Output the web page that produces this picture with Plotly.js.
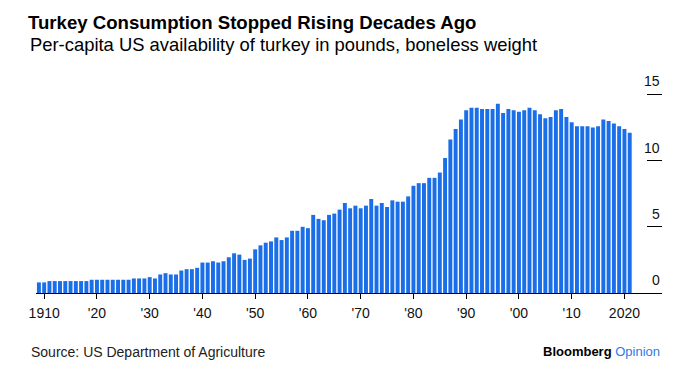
<!DOCTYPE html>
<html>
<head>
<meta charset="utf-8">
<script src="https://cdn.plot.ly/plotly-3.0.1.min.js"></script>
<style>
  html, body { margin: 0; padding: 0; background: #fff; }
  #chart { width: 687px; height: 374px; }
</style>
</head>
<body>
<div id="chart"></div>
<script>
const years = [
  1909,
  1910, 1911, 1912, 1913, 1914, 1915, 1916, 1917, 1918, 1919,
  1920, 1921, 1922, 1923, 1924, 1925, 1926, 1927, 1928, 1929,
  1930, 1931, 1932, 1933, 1934, 1935, 1936, 1937, 1938, 1939,
  1940, 1941, 1942, 1943, 1944, 1945, 1946, 1947, 1948, 1949,
  1950, 1951, 1952, 1953, 1954, 1955, 1956, 1957, 1958, 1959,
  1960, 1961, 1962, 1963, 1964, 1965, 1966, 1967, 1968, 1969,
  1970, 1971, 1972, 1973, 1974, 1975, 1976, 1977, 1978, 1979,
  1980, 1981, 1982, 1983, 1984, 1985, 1986, 1987, 1988, 1989,
  1990, 1991, 1992, 1993, 1994, 1995, 1996, 1997, 1998, 1999,
  2000, 2001, 2002, 2003, 2004, 2005, 2006, 2007, 2008, 2009,
  2010, 2011, 2012, 2013, 2014, 2015, 2016, 2017, 2018, 2019,
  2020, 2021
];
const turkeyLbs = [
  0.8,
  0.8, 0.9, 0.9, 0.9, 0.9, 0.9, 0.9, 0.9, 0.9, 1.0,
  1.0, 1.0, 1.0, 1.0, 1.0, 1.0, 1.0, 1.1, 1.1, 1.1,
  1.2, 1.1, 1.4, 1.5, 1.4, 1.4, 1.7, 1.8, 1.8, 1.9,
  2.3, 2.3, 2.4, 2.3, 2.4, 2.7, 3.0, 2.9, 2.5, 2.6,
  3.3, 3.6, 3.8, 3.9, 4.2, 4.0, 4.2, 4.7, 4.7, 5.0,
  4.9, 5.9, 5.6, 5.5, 5.9, 6.0, 6.3, 6.8, 6.4, 6.6,
  6.4, 6.6, 7.1, 6.6, 6.8, 6.5, 7.0, 6.9, 6.9, 7.3,
  8.1, 8.3, 8.3, 8.7, 8.7, 9.1, 10.2, 11.6, 12.4, 13.1,
  13.8, 14.0, 14.0, 13.9, 13.9, 13.9, 14.3, 13.6, 13.9, 13.8,
  13.7, 13.8, 14.0, 13.8, 13.5, 13.2, 13.3, 13.8, 13.9, 13.3,
  12.9, 12.6, 12.6, 12.6, 12.5, 12.6, 13.1, 13.0, 12.8, 12.6,
  12.4, 12.1
];
const xTickVals = [1910, 1920, 1930, 1940, 1950, 1960, 1970, 1980, 1990, 2000, 2010, 2020];
const xTickText = ["1910", "'20", "'30", "'40", "'50", "'60", "'70", "'80", "'90", "'00", "'10", "2020"];
const yTickVals = [0, 5, 10, 15];
const yTickText = ["0", "5", "10", "15"];

const FONT = '"Liberation Sans", Arial, Helvetica, sans-serif';

const trace = {
  type: 'bar',
  x: years,
  y: turkeyLbs,
  marker: { color: '#1a6fe8', line: { width: 0 } },
  hoverinfo: 'x+y'
};

// y-axis labels sit just above their short tick lines, right-aligned
const yLabelAnnotations = yTickVals.map((v, i) => ({
  text: yTickText[i],
  xref: 'paper', yref: 'y',
  x: 1, xanchor: 'right',
  y: v, yanchor: 'bottom', yshift: 3,
  showarrow: false,
  font: { family: FONT, size: 14, color: '#111' }
}));

// plot area: bottom at y=293, 13.25 px per pound
const layout = {
  width: 687,
  height: 374,
  margin: { l: 36, r: 25, t: 67.75, b: 81, pad: 0 },
  paper_bgcolor: '#ffffff',
  plot_bgcolor: '#ffffff',
  font: { family: FONT, color: '#000', size: 13 },
  showlegend: false,
  bargap: 0.25,
  title: {
    text: '<b>Turkey Consumption Stopped Rising Decades Ago</b>',
    font: { family: FONT, size: 18.6, color: '#000' },
    x: 28 / 687, xanchor: 'left', xref: 'container',
    y: 1 - 22 / 374, yanchor: 'middle', yref: 'container'
  },
  xaxis: {
    range: [1908.45, 2027.12],
    tickvals: xTickVals,
    ticktext: xTickText,
    ticks: 'outside',
    ticklen: 5,
    tickwidth: 1,
    tickcolor: '#000',
    showline: true,
    linecolor: '#000',
    linewidth: 1,
    showgrid: false,
    zeroline: false,
    ticklabelstandoff: 2,
    tickfont: { family: FONT, size: 14, color: '#111' },
    fixedrange: true
  },
  yaxis: {
    range: [0, 17],
    side: 'right',
    tickvals: yTickVals,
    ticks: 'inside',
    ticklen: 15,
    tickwidth: 1,
    tickcolor: '#000',
    showticklabels: false,
    showline: false,
    showgrid: false,
    zeroline: false,
    fixedrange: true
  },
  annotations: [
    {
      text: 'Per-capita US availability of turkey in pounds, boneless weight',
      xref: 'paper', yref: 'paper',
      x: (28 - 36) / 626, xanchor: 'left',
      y: (293 - 44.5) / 225.25, yanchor: 'middle',
      showarrow: false,
      font: { family: FONT, size: 18.4, color: '#000' }
    },
    {
      text: 'Source: US Department of Agriculture',
      xref: 'paper', yref: 'paper',
      x: (29 - 36) / 626, xanchor: 'left',
      y: (293 - 352) / 225.25, yanchor: 'middle',
      showarrow: false,
      font: { family: FONT, size: 14, color: '#222' }
    },
    {
      text: '<b>Bloomberg</b> <span style="color:#2e7ae6">Opinion</span>',
      xref: 'paper', yref: 'paper',
      x: 1, xanchor: 'right',
      y: (293 - 352) / 225.25, yanchor: 'middle',
      showarrow: false,
      font: { family: FONT, size: 13, color: '#000' }
    }
  ].concat(yLabelAnnotations)
};

Plotly.newPlot('chart', [trace], layout, { displayModeBar: false, staticPlot: true });
</script>
</body>
</html>
